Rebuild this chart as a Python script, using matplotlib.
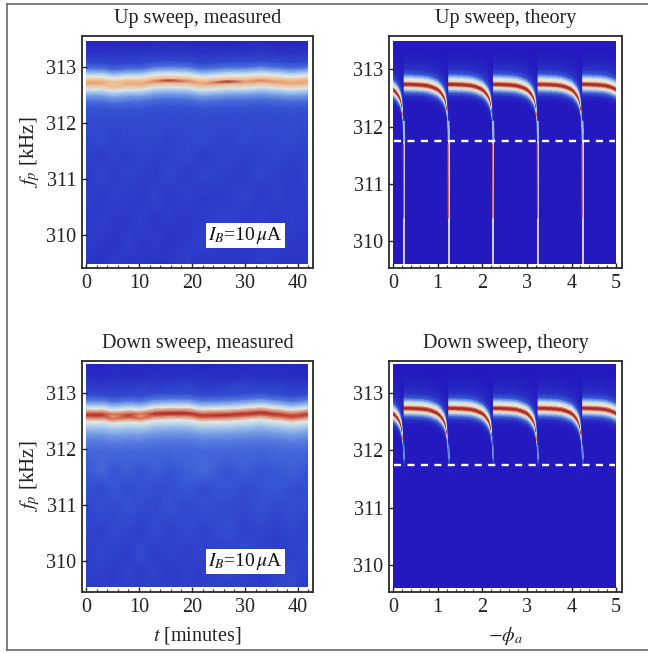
import numpy as np
import matplotlib
matplotlib.use('Agg')
import matplotlib.pyplot as plt
from matplotlib.colors import LinearSegmentedColormap
from matplotlib.lines import Line2D
from matplotlib.patches import Rectangle

plt.rcParams['font.family'] = ['Liberation Serif', 'DejaVu Serif']
plt.rcParams['mathtext.fontset'] = 'stix'

W, H = 648, 653

# colour scale, 0 = background blue, 1 = dark red
cmap_stops = [(0.0, '#2419bf'), (0.14, '#2a34c6'), (0.27, '#3658d6'), (0.38, '#86aeea'),
              (0.48, '#dfeef0'), (0.58, '#f6edc4'), (0.70, '#eeb182'), (0.82, '#d8694f'),
              (0.93, '#b5302c'), (1.0, '#8e1a2a')]

# measured panels
t_min = [0, 3, 5.2, 8, 10.3, 13, 15.5, 19, 22, 26.7, 30, 33, 36, 39, 41.9]
ridge_up = [312.72, 312.72, 312.69, 312.71, 312.71, 312.75, 312.76, 312.75, 312.71, 312.74, 312.74, 312.76, 312.74, 312.72, 312.74]
peak_up = [0.74, 0.72, 0.64, 0.72, 0.70, 0.78, 0.95, 0.78, 0.70, 0.97, 0.74, 0.78, 0.74, 0.72, 0.72]
ridge_down = [312.61, 312.61, 312.58, 312.60, 312.59, 312.63, 312.64, 312.64, 312.60, 312.61, 312.63, 312.65, 312.62, 312.59, 312.62]
peak_down = [0.93, 0.94, 0.72, 0.94, 0.72, 0.96, 0.97, 0.96, 0.92, 0.95, 0.94, 0.96, 0.93, 0.90, 0.92]

# distance from the ridge (kHz) and level there
ridge_offsets = [-0.62, -0.46, -0.33, -0.22, -0.12, -0.04, 0.0, 0.04, 0.11, 0.18, 0.26, 0.36]
ridge_up_levels = [0.22, 0.25, 0.30, 0.37, 0.47, 0.68, 0.0, 0.68, 0.50, 0.40, 0.30, 0.21]
ridge_down_levels = [0.29, 0.32, 0.36, 0.42, 0.50, 0.82, 0.0, 0.82, 0.50, 0.41, 0.31, 0.22]

# background levels away from the ridge
low_offsets = [-3.25, -2.85, -2.45, -2.05, -1.65, -1.3, -1.0]
high_offsets = [0.52, 0.68, 0.95]
low_up = [[0.15, 0.13, 0.17, 0.14, 0.16, 0.13, 0.16, 0.18, 0.14, 0.16, 0.14, 0.17, 0.15, 0.14, 0.16],
          [0.17, 0.15, 0.14, 0.18, 0.15, 0.17, 0.14, 0.16, 0.19, 0.15, 0.17, 0.15, 0.18, 0.16, 0.15],
          [0.15, 0.18, 0.16, 0.15, 0.19, 0.15, 0.17, 0.15, 0.17, 0.20, 0.16, 0.18, 0.15, 0.18, 0.16],
          [0.18, 0.16, 0.19, 0.17, 0.16, 0.20, 0.16, 0.19, 0.16, 0.17, 0.20, 0.16, 0.19, 0.17, 0.18],
          [0.17, 0.20, 0.17, 0.20, 0.18, 0.17, 0.21, 0.17, 0.20, 0.18, 0.17, 0.21, 0.18, 0.17, 0.19],
          [0.19, 0.17, 0.20, 0.17, 0.20, 0.18, 0.19, 0.21, 0.17, 0.20, 0.18, 0.19, 0.21, 0.18, 0.19],
          [0.20, 0.22, 0.19, 0.21, 0.20, 0.22, 0.19, 0.21, 0.22, 0.19, 0.22, 0.20, 0.21, 0.22, 0.20]]
high_up = [[0.14, 0.13, 0.15, 0.13, 0.16, 0.14, 0.13, 0.15, 0.13, 0.15, 0.13, 0.16, 0.14, 0.13, 0.15],
           [0.08, 0.07, 0.09, 0.08, 0.07, 0.09, 0.08, 0.08, 0.09, 0.07, 0.09, 0.08, 0.07, 0.09, 0.08],
           [0.06, 0.05, 0.06, 0.07, 0.05, 0.06, 0.07, 0.05, 0.06, 0.07, 0.05, 0.06, 0.05, 0.07, 0.06]]
low_down = [[0.17, 0.15, 0.19, 0.16, 0.18, 0.15, 0.19, 0.17, 0.20, 0.16, 0.18, 0.16, 0.20, 0.17, 0.16],
            [0.19, 0.18, 0.16, 0.20, 0.17, 0.20, 0.16, 0.19, 0.17, 0.21, 0.18, 0.17, 0.19, 0.22, 0.17],
            [0.17, 0.21, 0.19, 0.17, 0.22, 0.17, 0.20, 0.18, 0.20, 0.18, 0.22, 0.18, 0.17, 0.19, 0.20],
            [0.21, 0.18, 0.22, 0.20, 0.18, 0.23, 0.19, 0.22, 0.19, 0.24, 0.19, 0.21, 0.18, 0.21, 0.18],
            [0.20, 0.24, 0.21, 0.25, 0.22, 0.20, 0.25, 0.21, 0.24, 0.22, 0.21, 0.25, 0.21, 0.24, 0.22],
            [0.25, 0.22, 0.27, 0.22, 0.26, 0.24, 0.23, 0.27, 0.23, 0.26, 0.23, 0.25, 0.27, 0.23, 0.24],
            [0.26, 0.29, 0.25, 0.28, 0.25, 0.28, 0.26, 0.28, 0.29, 0.25, 0.28, 0.26, 0.27, 0.28, 0.26]]
high_down = [[0.17, 0.15, 0.18, 0.16, 0.20, 0.16, 0.17, 0.19, 0.16, 0.18, 0.20, 0.16, 0.19, 0.17, 0.16],
             [0.11, 0.09, 0.12, 0.10, 0.09, 0.12, 0.10, 0.11, 0.13, 0.10, 0.12, 0.10, 0.12, 0.10, 0.11],
             [0.08, 0.06, 0.09, 0.07, 0.09, 0.06, 0.08, 0.09, 0.07, 0.08, 0.06, 0.09, 0.07, 0.08, 0.07]]

# theory panels, one flux period after each jump
period_pos = [0.0, 0.12, 0.25, 0.38, 0.5, 0.6, 0.7, 0.75, 0.81, 0.86, 0.9, 0.93, 0.955, 0.975, 0.99, 1.0]
period_ridge = [312.74, 312.74, 312.735, 312.73, 312.72, 312.70, 312.67, 312.65, 312.61, 312.56, 312.51, 312.45, 312.37, 312.26, 312.12, 311.90]
period_fade = [1, 1, 1, 1, 1, 1, 1, 1, 1, 1, 1, 1, 1, 0.95, 0.8, 0.45]
theory_offsets = [-0.30, -0.20, -0.14, -0.09, -0.05, -0.025, 0.0, 0.025, 0.05, 0.09, 0.13, 0.18, 0.26, 0.38, 0.60]
theory_levels = [0.0, 0.12, 0.30, 0.45, 0.62, 0.88, 0.97, 0.88, 0.62, 0.48, 0.40, 0.27, 0.13, 0.06, 0.0]
jumps = [-0.75, 0.25, 1.25, 2.25, 3.25, 4.25]
guide_f = 311.74

x_ticks_t = [0, 10, 20, 30, 40]
x_ticks_phi = [0, 1, 2, 3, 4, 5]
y_ticks = [310, 311, 312, 313]

cmap = LinearSegmentedColormap.from_list('sweep', cmap_stops)


def make_axes(left, top, right, bottom, xlim, ylim):
    ax = fig.add_axes([left / W, 1 - bottom / H, (right - left) / W, (bottom - top) / H])
    ax.set_xlim(*xlim)
    ax.set_ylim(*ylim)
    for s in ax.spines.values():
        s.set_linewidth(1.3)
        s.set_color('#2a2a2a')
    ax.set_yticks(y_ticks)
    ax.tick_params(axis='both', which='both', direction='in', length=3.5, width=1.0,
                   labelsize=14.5, colors='#222222', pad=4)
    ax.tick_params(axis='both', which='minor', length=2, width=0.8)
    return ax


def measured(ax, ridge, peak, ridge_levels, low, high, extent, title):
    rows = low_offsets + ridge_offsets + high_offsets
    Z = np.vstack([np.array(low), np.tile(ridge_levels, (len(t_min), 1)).T, np.array(high)])
    Z[len(low_offsets) + ridge_offsets.index(0.0)] = peak
    X = np.tile(t_min, (len(rows), 1))
    Y = np.array(ridge)[None, :] + np.array(rows)[:, None]
    clip = Rectangle((extent[0], extent[2]), extent[1] - extent[0], extent[3] - extent[2], transform=ax.transData)
    ax.add_patch(Rectangle((extent[0], extent[2]), extent[1] - extent[0], extent[3] - extent[2],
                           color=cmap(0.06), lw=0, zorder=0))
    m = ax.pcolormesh(X, Y, Z, cmap=cmap, vmin=0, vmax=1, shading='gouraud', zorder=1)
    m.set_clip_path(clip)
    ax.set_xticks(x_ticks_t)
    ax.set_xticks(np.arange(0, 43, 2), minor=True)
    ax.set_title(title, fontsize=14.5, color='#222222', pad=9.5)
    ax.text(23.0, 310.0, r'$I_B$=10$\,\mu$A', fontsize=14, color='#111111', ha='left', va='center',
            bbox=dict(facecolor='white', edgecolor='none', pad=1.5), zorder=5)
    ax.set_ylabel(r'$f_p$ [kHz]', fontsize=15, color='#222222', labelpad=3)


def theory(ax, extent, title, full_tail):
    clip = Rectangle((extent[0], extent[2]), extent[1] - extent[0], extent[3] - extent[2], transform=ax.transData)
    ax.add_patch(Rectangle((extent[0], extent[2]), extent[1] - extent[0], extent[3] - extent[2],
                           color=cmap(0.0), lw=0, zorder=0))
    pos = np.array(period_pos)
    fr = np.array(period_ridge)
    off = np.array(theory_offsets)
    for j in jumps:
        X = np.tile(j + pos, (len(off), 1))
        Y = fr[None, :] + off[:, None]
        Z = np.outer(theory_levels, period_fade)
        m = ax.pcolormesh(X, Y, Z, cmap=cmap, vmin=0, vmax=1, shading='gouraud', zorder=1)
        m.set_clip_path(clip)
        jump_next = j + 1.0
        if jump_next > extent[1]:
            continue
        if full_tail:
            ax.plot([jump_next - 0.01, jump_next], [312.1, 311.75], color='#9db8ee', lw=1.5,
                    zorder=2, solid_capstyle='butt')
            ax.plot([jump_next, jump_next], [311.75, extent[2]], color='#e3dfe6', lw=1.3,
                    zorder=2, solid_capstyle='butt')
            ax.plot([jump_next - 0.018, jump_next - 0.012], [311.7, 310.4], color='#c9524a', lw=0.8,
                    zorder=3, solid_capstyle='butt')
        else:
            ax.plot([jump_next - 0.012, jump_next - 0.003], [312.1, 311.85], color='#5f84de', lw=1.0,
                    zorder=2, solid_capstyle='butt')
    ax.add_line(Line2D([0.02, 4.97], [guide_f, guide_f], color='white', lw=1.7,
                       dashes=(3.0, 2.7), zorder=4))
    ax.set_xticks(x_ticks_phi)
    ax.set_xticks(np.arange(0, 5.01, 0.2), minor=True)
    ax.set_title(title, fontsize=14.5, color='#222222', pad=9.5)


fig = plt.figure(figsize=(W / 100, H / 100), dpi=100, facecolor='white')

ax1 = make_axes(82, 36, 313, 268, (-0.75, 42.85), (309.42, 313.55))
ax2 = make_axes(389, 36, 622, 268, (-0.09, 5.13), (309.53, 313.58))
ax3 = make_axes(82, 361, 313, 592, (-0.75, 42.85), (309.45, 313.57))
ax4 = make_axes(389, 361, 622, 592, (-0.09, 5.13), (309.53, 313.56))

measured(ax1, ridge_up, peak_up, ridge_up_levels, low_up, high_up, (0, 41.9, 309.5, 313.46), 'Up sweep, measured')
measured(ax3, ridge_down, peak_down, ridge_down_levels, low_down, high_down, (0, 41.9, 309.54, 313.52), 'Down sweep, measured')
theory(ax2, (0, 5, 309.6, 313.49), 'Up sweep, theory', True)
theory(ax4, (0, 5, 309.6, 313.5), 'Down sweep, theory', False)

ax3.set_xlabel(r'$t$ [minutes]', fontsize=14.5, color='#222222', labelpad=6)
ax4.set_xlabel(r'$-\phi_a$', fontsize=14.5, color='#222222', labelpad=6)

# grey outer border of the figure
for xs, ys in [((7, 7), (4, 650)), ((7, 648), (4, 4)), ((7, 648), (650, 650))]:
    fig.add_artist(Line2D([x / W for x in xs], [1 - y / H for y in ys], color='#6a6a6a', lw=1.2))

fig.savefig('out.png', dpi=100)
